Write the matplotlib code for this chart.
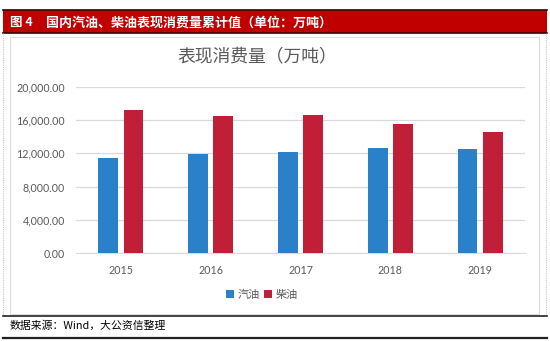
import matplotlib.pyplot as plt
import matplotlib.patches as patches
import numpy as np
from matplotlib.ticker import FuncFormatter

plt.rcParams['font.family'] = ['Noto Sans CJK SC', 'DejaVu Sans']

# 数据（万吨）
years = ['2015', '2016', '2017', '2018', '2019']
gasoline = [11440, 11960, 12200, 12600, 12480]
diesel = [17280, 16480, 16680, 15520, 14520]
series_names = ['汽油', '柴油']

fig_no = '图 4'
fig_title = '国内汽油、柴油表现消费量累计值（单位：万吨）'
chart_title = '表现消费量（万吨）'
source = '数据来源：Wind，大公资信整理'

W, H = 550, 341
fig = plt.figure(figsize=(W / 100, H / 100), dpi=100)
fig.patch.set_facecolor('white')

def box(x0, y0, x1, y1, **kw):
    # 像素坐标 (左上为原点) -> figure 坐标
    r = patches.Rectangle((x0 / W, 1 - y1 / H), (x1 - x0) / W, (y1 - y0) / H,
                          transform=fig.transFigure, zorder=-5, **kw)
    fig.patches.append(r)

def hline(y, x0, x1, **kw):
    fig.add_artist(plt.Line2D([x0 / W, x1 / W], [1 - y / H, 1 - y / H],
                              transform=fig.transFigure, **kw))

def vline(x, y0, y1, **kw):
    fig.add_artist(plt.Line2D([x / W, x / W], [1 - y0 / H, 1 - y1 / H],
                              transform=fig.transFigure, **kw))

# 外框 / 标题栏
box(3, 10, 547, 33, facecolor='#C00000', edgecolor='none')
hline(10, 3, 547, color='#3a0000', lw=1.2)
hline(33, 3, 547, color='#3a0000', lw=1.2)
vline(3, 33, 316, color='#c8c8c8', lw=0.8, ls=(0, (1, 1)))
vline(546, 33, 316, color='#c8c8c8', lw=0.8, ls=(0, (1, 1)))
box(10, 37, 539, 314, facecolor='white', edgecolor='#dcdcdc', lw=0.8)
hline(315.5, 3, 547, color='#222222', lw=1.2)
hline(337.5, 3, 547, color='#222222', lw=1.6)

fig.text(10 / W, 1 - 22.5 / H, fig_no, color='white', fontsize=9,
         fontweight='bold', va='center', ha='left')
fig.text(46 / W, 1 - 22.5 / H, fig_title, color='white', fontsize=9.4,
         fontweight='bold', va='center', ha='left')
fig.text(257 / W, 1 - 57 / H, chart_title, color='#595959', fontsize=12.8,
         va='center', ha='center')
fig.text(10 / W, 1 - 326 / H, source, color='black', fontsize=7.8,
         va='center', ha='left')

# 主图
ax = fig.add_axes([76 / W, (H - 253) / H, 449 / W, 166 / H])
ax.set_zorder(5)
ax.patch.set_alpha(0)
x = np.arange(len(years))
bw = 0.22
ax.bar(x - 0.14, gasoline, bw, color='#2A80C9', label=series_names[0], zorder=3)
ax.bar(x + 0.14, diesel, bw, color='#C11F37', label=series_names[1], zorder=3)

ax.set_xlim(-0.5, 4.5)
ax.set_ylim(0, 20000)
ax.set_yticks(np.arange(0, 20001, 4000))
ax.yaxis.set_major_formatter(FuncFormatter(lambda v, p: f'{v:,.2f}'))
ax.set_xticks(x)
ax.set_xticklabels(years)
ax.grid(axis='y', color='#d9d9d9', lw=0.9, zorder=0)
for s in ['top', 'right', 'left']:
    ax.spines[s].set_visible(False)
ax.spines['bottom'].set_color('#d9d9d9')
ax.tick_params(axis='both', length=0, colors='#595959', labelsize=7.7)
ax.tick_params(axis='x', pad=9)
ax.tick_params(axis='y', pad=8)
for lab in ax.get_xticklabels() + ax.get_yticklabels():
    lab.set_family(['Lato', 'DejaVu Sans'])

leg = fig.legend(loc='center', bbox_to_anchor=(262 / W, 1 - 295 / H), ncol=2,
                 frameon=False, fontsize=8, handlelength=0.7, handleheight=0.7,
                 handletextpad=0.3, columnspacing=0.4)
leg.set_zorder(6)
for t in leg.get_texts():
    t.set_color('#595959')

fig.savefig('out.png', dpi=100)
